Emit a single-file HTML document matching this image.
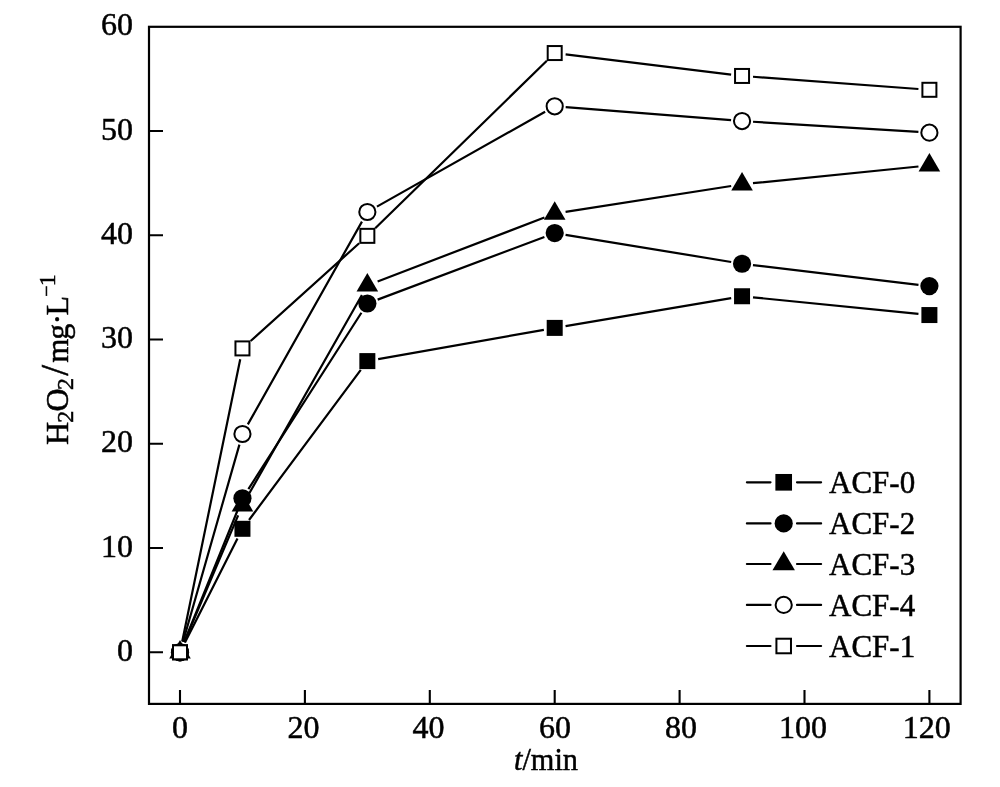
<!DOCTYPE html><html><head><meta charset="utf-8"><style>html,body{margin:0;padding:0;background:#fff;}svg{display:block;will-change:transform;}text{font-family:"Liberation Serif","Times New Roman",serif;fill:#000;stroke:#000;stroke-width:0.5px;}</style></head><body>
<svg width="1000" height="787" viewBox="0 0 1000 787">
<rect width="1000" height="787" fill="#fff"/>
<path d="M184.96 642.48L237.49 538.62M249.02 519.98L360.78 369.92M378.18 359.18L543.87 329.82M565.55 326.07L731.20 298.08M753.00 297.35L918.45 313.95" stroke="#000" stroke-width="2.2" fill="none"/>
<rect x="172.00" y="644.30" width="16.00" height="16.00" fill="#000"/>
<rect x="234.45" y="520.80" width="16.00" height="16.00" fill="#000"/>
<rect x="359.35" y="353.10" width="16.00" height="16.00" fill="#000"/>
<rect x="546.70" y="319.90" width="16.00" height="16.00" fill="#000"/>
<rect x="734.05" y="288.25" width="16.00" height="16.00" fill="#000"/>
<rect x="921.40" y="307.05" width="16.00" height="16.00" fill="#000"/>
<path d="M184.13 642.11L238.32 508.49M248.39 489.04L361.41 312.76M377.65 299.63L544.40 236.92M565.56 234.83L731.19 261.97M752.97 265.05L918.48 284.80" stroke="#000" stroke-width="2.2" fill="none"/>
<circle cx="180.00" cy="652.30" r="9.10" fill="#000"/>
<circle cx="242.45" cy="498.30" r="9.10" fill="#000"/>
<circle cx="367.35" cy="303.50" r="9.10" fill="#000"/>
<circle cx="554.70" cy="233.05" r="9.10" fill="#000"/>
<circle cx="742.05" cy="263.75" r="9.10" fill="#000"/>
<circle cx="929.40" cy="286.10" r="9.10" fill="#000"/>
<path d="M184.30 642.18L238.15 515.42M247.88 495.74L361.92 294.96M377.62 281.46L544.43 217.54M565.57 211.90L731.18 186.00M752.99 183.20L918.46 166.50" stroke="#000" stroke-width="2.2" fill="none"/>
<polygon points="180.00,640.00 190.80,658.40 169.20,658.40" fill="#000"/>
<polygon points="242.45,493.00 253.25,511.40 231.65,511.40" fill="#000"/>
<polygon points="367.35,273.10 378.15,291.50 356.55,291.50" fill="#000"/>
<polygon points="554.70,201.30 565.50,219.70 543.90,219.70" fill="#000"/>
<polygon points="742.05,172.00 752.85,190.40 731.25,190.40" fill="#000"/>
<polygon points="929.40,153.10 940.20,171.50 918.60,171.50" fill="#000"/>
<path d="M183.03 641.72L239.42 444.58M247.84 424.41L361.96 221.59M376.93 206.59L545.12 111.71M565.67 107.16L731.08 120.19M753.03 121.73L918.42 131.97" stroke="#000" stroke-width="2.2" fill="none"/>
<circle cx="180.00" cy="652.30" r="8.10" fill="#fff" stroke="#000" stroke-width="2.0"/>
<circle cx="242.45" cy="434.00" r="8.10" fill="#fff" stroke="#000" stroke-width="2.0"/>
<circle cx="367.35" cy="212.00" r="8.10" fill="#fff" stroke="#000" stroke-width="2.0"/>
<circle cx="554.70" cy="106.30" r="8.10" fill="#fff" stroke="#000" stroke-width="2.0"/>
<circle cx="742.05" cy="121.05" r="8.10" fill="#fff" stroke="#000" stroke-width="2.0"/>
<circle cx="929.40" cy="132.65" r="8.10" fill="#fff" stroke="#000" stroke-width="2.0"/>
<path d="M182.21 641.53L240.24 359.17M250.62 341.04L359.18 243.21M375.22 228.17L546.83 60.73M565.62 54.38L731.13 74.62M753.02 76.76L918.43 88.99" stroke="#000" stroke-width="2.2" fill="none"/>
<rect x="173.00" y="645.30" width="14.00" height="14.00" fill="#fff" stroke="#000" stroke-width="2.0"/>
<rect x="235.45" y="341.40" width="14.00" height="14.00" fill="#fff" stroke="#000" stroke-width="2.0"/>
<rect x="360.35" y="228.85" width="14.00" height="14.00" fill="#fff" stroke="#000" stroke-width="2.0"/>
<rect x="547.70" y="46.05" width="14.00" height="14.00" fill="#fff" stroke="#000" stroke-width="2.0"/>
<rect x="735.05" y="68.95" width="14.00" height="14.00" fill="#fff" stroke="#000" stroke-width="2.0"/>
<rect x="922.40" y="82.80" width="14.00" height="14.00" fill="#fff" stroke="#000" stroke-width="2.0"/>
<rect x="149.0" y="26.8" width="811.60" height="677.10" fill="none" stroke="#000" stroke-width="2.2"/>
<path d="M180.00 703.90V689.90M304.90 703.90V689.90M429.80 703.90V689.90M554.70 703.90V689.90M679.60 703.90V689.90M804.50 703.90V689.90M929.40 703.90V689.90M149.00 652.30H163.00M149.00 548.05H163.00M149.00 443.80H163.00M149.00 339.55H163.00M149.00 235.30H163.00M149.00 131.05H163.00" stroke="#000" stroke-width="2.1" fill="none"/>
<text x="180.00" y="737.6" font-size="32.0" text-anchor="middle">0</text>
<text x="303.60" y="737.6" font-size="32.0" text-anchor="middle">20</text>
<text x="428.60" y="737.6" font-size="32.0" text-anchor="middle">40</text>
<text x="554.90" y="737.6" font-size="32.0" text-anchor="middle">60</text>
<text x="681.00" y="737.6" font-size="32.0" text-anchor="middle">80</text>
<text x="802.90" y="737.6" font-size="32.0" text-anchor="middle">100</text>
<text x="926.80" y="737.6" font-size="32.0" text-anchor="middle">120</text>
<text x="133" y="660.90" font-size="32.0" text-anchor="end">0</text>
<text x="133" y="556.65" font-size="32.0" text-anchor="end">10</text>
<text x="133" y="452.40" font-size="32.0" text-anchor="end">20</text>
<text x="133" y="348.15" font-size="32.0" text-anchor="end">30</text>
<text x="133" y="243.90" font-size="32.0" text-anchor="end">40</text>
<text x="133" y="139.65" font-size="32.0" text-anchor="end">50</text>
<text x="133" y="35.40" font-size="32.0" text-anchor="end">60</text>
<text x="514.0" y="770.2" font-size="32.0" textLength="64.0" lengthAdjust="spacingAndGlyphs"><tspan font-style="italic">t</tspan>/min</text>
<text transform="rotate(-90)"><tspan x="-444.93" y="67.7" font-size="32">H</tspan><tspan x="-422.86" y="72.9" font-size="24">2</tspan><tspan x="-411.5" y="67.7" font-size="32">O</tspan><tspan x="-389.96" y="72.9" font-size="24">2</tspan><tspan x="-375.7" y="68.2" font-size="39">/</tspan><tspan x="-362.75" y="67.7" font-size="31">m</tspan><tspan x="-339.68" y="67.7" font-size="32">g</tspan><tspan x="-324.43" y="67.7" font-size="32">·</tspan><tspan x="-315.43" y="67.7" font-size="32">L</tspan><tspan x="-296.7" y="52.84" font-size="20">−</tspan><tspan x="-286.3" y="54.5" font-size="24">1</tspan></text>
<path d="M746.9 482.3H770.5M797.0 482.3H821.1" stroke="#000" stroke-width="2.2" stroke-linecap="round"/>
<rect x="775.38" y="473.98" width="16.64" height="16.64" fill="#000"/>
<text x="829" y="493.00" font-size="31.0">ACF-0</text>
<path d="M746.9 523.4H770.5M797.0 523.4H821.1" stroke="#000" stroke-width="2.2" stroke-linecap="round"/>
<circle cx="783.70" cy="523.40" r="9.10" fill="#000"/>
<text x="829" y="534.10" font-size="31.0">ACF-2</text>
<path d="M746.9 564.0H770.5M797.0 564.0H821.1" stroke="#000" stroke-width="2.2" stroke-linecap="round"/>
<polygon points="783.70,551.21 794.93,570.34 772.47,570.34" fill="#000"/>
<text x="829" y="574.70" font-size="31.0">ACF-3</text>
<path d="M746.9 604.9H770.5M797.0 604.9H821.1" stroke="#000" stroke-width="2.2" stroke-linecap="round"/>
<circle cx="783.70" cy="604.90" r="8.10" fill="#fff" stroke="#000" stroke-width="2.0"/>
<text x="829" y="615.60" font-size="31.0">ACF-4</text>
<path d="M746.9 646.0H770.5M797.0 646.0H821.1" stroke="#000" stroke-width="2.2" stroke-linecap="round"/>
<rect x="776.42" y="638.72" width="14.56" height="14.56" fill="#fff" stroke="#000" stroke-width="2.0"/>
<text x="829" y="656.70" font-size="31.0">ACF-1</text>
</svg></body></html>
